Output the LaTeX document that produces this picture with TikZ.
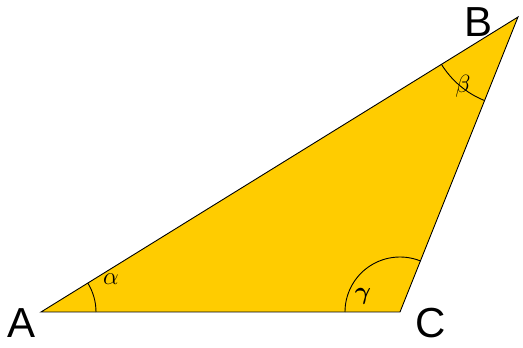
\documentclass[tikz,border=0pt]{standalone}
\usepackage{fontspec}
\setmainfont{Liberation Sans}
\usepackage{amsmath}
\usepackage{bm}
\definecolor{gold}{RGB}{255,204,0}

\begin{document}
\begin{tikzpicture}[x=1pt, y=1pt, line width=0.9pt,
  vertex/.style={font=\fontsize{42}{42}\selectfont, inner sep=0pt},
  anglelabel/.style={inner sep=0pt}]
  \useasboundingbox (0,0) rectangle (523,348);

  % Vertices
  \coordinate (A) at (41,36);
  \coordinate (B) at (518,331);
  \coordinate (C) at (400,36);

  % Triangle
  \filldraw[fill=gold, draw=black] (A) -- (C) -- (B) -- cycle;

  % Angle arcs
  \draw ([shift={(0:55)}]A) arc[start angle=0, end angle=31.7, radius=55];
  \draw ([shift={(68.2:55)}]C) arc[start angle=68.2, end angle=180, radius=55];
  \draw ([shift={(211.7:90)}]B) arc[start angle=211.7, end angle=248.2, radius=90];

  % Vertex labels
  \node[vertex] (lA) at (22,25) {A};
  \node[vertex] (lB) at (479,326) {B};
  \node[vertex] (lC) at (431,25) {C};

  % Angle labels
  \node[anglelabel] (la) at (111,69) {\fontsize{26}{26}\selectfont$\alpha$};
  \node[anglelabel] (lb) at (463,262) {\fontsize{24}{24}\selectfont$\beta$};
  \node[anglelabel] (lg) at (363,52) {\fontsize{30}{30}\selectfont$\bm{\gamma}$};
\end{tikzpicture}
\end{document}
